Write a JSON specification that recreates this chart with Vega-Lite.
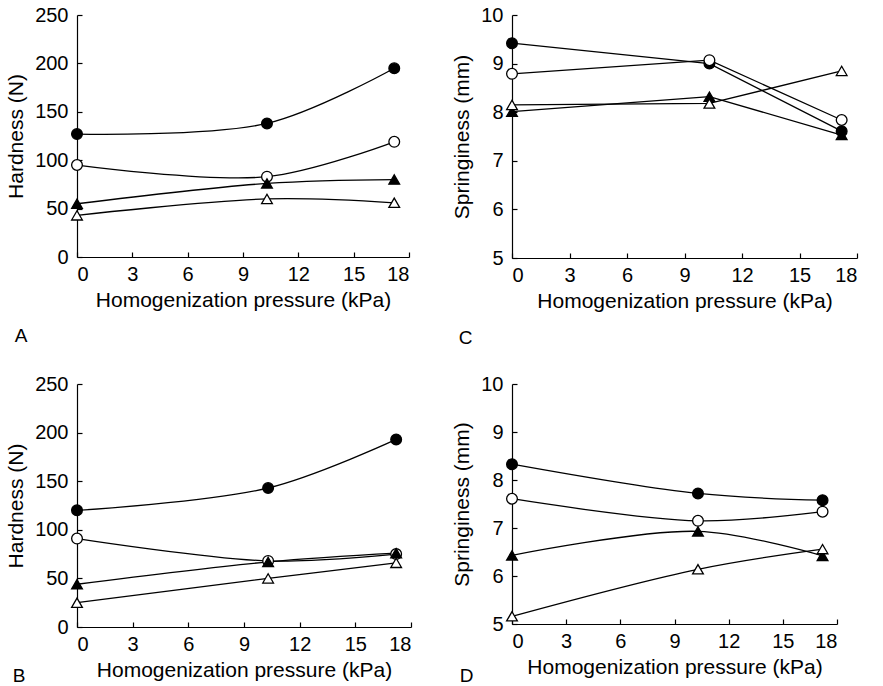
{
  "$schema": "https://vega.github.io/schema/vega-lite/v6.json",
  "background": "white",
  "padding": 5,
  "columns": 2,
  "spacing": {"row": 26, "column": 39},
  "config": {
    "font": "Liberation Sans",
    "view": {"stroke": null},
    "axis": {
      "grid": false,
      "domainColor": "black",
      "domainWidth": 1.2,
      "tickColor": "black",
      "tickWidth": 1.2,
      "tickSize": -5,
      "labelPadding": 12,
      "labelColor": "black",
      "labelFont": "Liberation Sans",
      "labelFontSize": 20,
      "titleFont": "Liberation Sans",
      "titleFontSize": 21,
      "titleFontWeight": "normal",
      "titleColor": "black",
      "titlePadding": 5
    },
    "axisY": {"labelPadding": 14, "titlePadding": 8},
    "title": {"font": "Liberation Sans", "fontSize": 19, "fontWeight": "normal", "color": "black"}
  },
  "datasets": {
    "pts": [
      {"panel": "A", "series": "Filled circle", "pressure": 0, "value": 127},
      {"panel": "A", "series": "Filled circle", "pressure": 10.3, "value": 138},
      {"panel": "A", "series": "Filled circle", "pressure": 17.2, "value": 195},
      {"panel": "A", "series": "Open circle", "pressure": 0, "value": 95},
      {"panel": "A", "series": "Open circle", "pressure": 10.3, "value": 83},
      {"panel": "A", "series": "Open circle", "pressure": 17.2, "value": 119},
      {"panel": "A", "series": "Filled triangle", "pressure": 0, "value": 55},
      {"panel": "A", "series": "Filled triangle", "pressure": 10.3, "value": 76},
      {"panel": "A", "series": "Filled triangle", "pressure": 17.2, "value": 80},
      {"panel": "A", "series": "Open triangle", "pressure": 0, "value": 43},
      {"panel": "A", "series": "Open triangle", "pressure": 10.3, "value": 60},
      {"panel": "A", "series": "Open triangle", "pressure": 17.2, "value": 56},
      {"panel": "B", "series": "Filled circle", "pressure": 0, "value": 120},
      {"panel": "B", "series": "Filled circle", "pressure": 10.3, "value": 143},
      {"panel": "B", "series": "Filled circle", "pressure": 17.2, "value": 193},
      {"panel": "B", "series": "Open circle", "pressure": 0, "value": 91},
      {"panel": "B", "series": "Open circle", "pressure": 10.3, "value": 68},
      {"panel": "B", "series": "Open circle", "pressure": 17.2, "value": 75},
      {"panel": "B", "series": "Filled triangle", "pressure": 0, "value": 44},
      {"panel": "B", "series": "Filled triangle", "pressure": 10.3, "value": 67},
      {"panel": "B", "series": "Filled triangle", "pressure": 17.2, "value": 76},
      {"panel": "B", "series": "Open triangle", "pressure": 0, "value": 25},
      {"panel": "B", "series": "Open triangle", "pressure": 10.3, "value": 50},
      {"panel": "B", "series": "Open triangle", "pressure": 17.2, "value": 66},
      {"panel": "C", "series": "Filled circle", "pressure": 0, "value": 9.42},
      {"panel": "C", "series": "Filled circle", "pressure": 10.3, "value": 9.0},
      {"panel": "C", "series": "Filled circle", "pressure": 17.2, "value": 7.61},
      {"panel": "C", "series": "Open circle", "pressure": 0, "value": 8.79},
      {"panel": "C", "series": "Open circle", "pressure": 10.3, "value": 9.07},
      {"panel": "C", "series": "Open circle", "pressure": 17.2, "value": 7.84},
      {"panel": "C", "series": "Filled triangle", "pressure": 0, "value": 8.01},
      {"panel": "C", "series": "Filled triangle", "pressure": 10.3, "value": 8.32},
      {"panel": "C", "series": "Filled triangle", "pressure": 17.2, "value": 7.53},
      {"panel": "C", "series": "Open triangle", "pressure": 0, "value": 8.15},
      {"panel": "C", "series": "Open triangle", "pressure": 10.3, "value": 8.18},
      {"panel": "C", "series": "Open triangle", "pressure": 17.2, "value": 8.85},
      {"panel": "D", "series": "Filled circle", "pressure": 0, "value": 8.33},
      {"panel": "D", "series": "Filled circle", "pressure": 10.3, "value": 7.72},
      {"panel": "D", "series": "Filled circle", "pressure": 17.2, "value": 7.58},
      {"panel": "D", "series": "Open circle", "pressure": 0, "value": 7.61},
      {"panel": "D", "series": "Open circle", "pressure": 10.3, "value": 7.15},
      {"panel": "D", "series": "Open circle", "pressure": 17.2, "value": 7.34},
      {"panel": "D", "series": "Filled triangle", "pressure": 0, "value": 6.43},
      {"panel": "D", "series": "Filled triangle", "pressure": 10.3, "value": 6.93},
      {"panel": "D", "series": "Filled triangle", "pressure": 17.2, "value": 6.42},
      {"panel": "D", "series": "Open triangle", "pressure": 0, "value": 5.16},
      {"panel": "D", "series": "Open triangle", "pressure": 10.3, "value": 6.14},
      {"panel": "D", "series": "Open triangle", "pressure": 17.2, "value": 6.56}
    ]
  },
  "concat": [
    {
      "width": 332, "height": 242,
      "data": {"name": "pts"},
      "transform": [{"filter": "datum.panel === 'A'"}],
      "title": {"text": "A", "orient": "bottom", "anchor": "start", "frame": "bounds", "offset": 17, "dx": 9},
      "encoding": {
        "x": {"field": "pressure", "type": "quantitative", "scale": {"domain": [0, 18]}, "axis": {"values": [0, 3, 6, 9, 12, 15, 18], "title": "Homogenization pressure (kPa)"}},
        "y": {"field": "value", "type": "quantitative", "scale": {"domain": [0, 250]}, "axis": {"values": [0, 50, 100, 150, 200, 250], "title": "Hardness (N)"}}
      },
      "layer": [
        {"mark": {"type": "line", "interpolate": "catmull-rom", "color": "black", "strokeWidth": 1.3}, "encoding": {"detail": {"field": "series"}}},
        {"mark": {"type": "point", "filled": true, "size": 115, "stroke": "black", "strokeWidth": 1.3, "opacity": 1},
         "encoding": {
           "fill": {"field": "series", "type": "nominal", "scale": {"domain": ["Filled circle", "Open circle", "Filled triangle", "Open triangle"], "range": ["black", "white", "black", "white"]}, "legend": null},
           "shape": {"field": "series", "type": "nominal", "scale": {"domain": ["Filled circle", "Open circle", "Filled triangle", "Open triangle"], "range": ["circle", "circle", "triangle-up", "triangle-up"]}, "legend": null}
         }}
      ]
    },
    {
      "width": 345, "height": 243,
      "data": {"name": "pts"},
      "transform": [{"filter": "datum.panel === 'C'"}],
      "title": {"text": "C", "orient": "bottom", "anchor": "start", "frame": "bounds", "offset": 18, "dx": 7},
      "encoding": {
        "x": {"field": "pressure", "type": "quantitative", "scale": {"domain": [0, 18]}, "axis": {"values": [0, 3, 6, 9, 12, 15, 18], "title": "Homogenization pressure (kPa)"}},
        "y": {"field": "value", "type": "quantitative", "scale": {"domain": [5, 10]}, "axis": {"values": [5, 6, 7, 8, 9, 10], "title": "Springiness (mm)"}}
      },
      "layer": [
        {"mark": {"type": "line", "interpolate": "linear", "color": "black", "strokeWidth": 1.3}, "encoding": {"detail": {"field": "series"}}},
        {"mark": {"type": "point", "filled": true, "size": 115, "stroke": "black", "strokeWidth": 1.3, "opacity": 1},
         "encoding": {
           "fill": {"field": "series", "type": "nominal", "scale": {"domain": ["Filled circle", "Open circle", "Filled triangle", "Open triangle"], "range": ["black", "white", "black", "white"]}, "legend": null},
           "shape": {"field": "series", "type": "nominal", "scale": {"domain": ["Filled circle", "Open circle", "Filled triangle", "Open triangle"], "range": ["circle", "circle", "triangle-up", "triangle-up"]}, "legend": null}
         }}
      ]
    },
    {
      "width": 334, "height": 243,
      "data": {"name": "pts"},
      "transform": [{"filter": "datum.panel === 'B'"}],
      "title": {"text": "B", "orient": "bottom", "anchor": "start", "frame": "bounds", "offset": -13, "dx": 7},
      "encoding": {
        "x": {"field": "pressure", "type": "quantitative", "scale": {"domain": [0, 18]}, "axis": {"values": [0, 3, 6, 9, 12, 15, 18], "title": "Homogenization pressure (kPa)"}},
        "y": {"field": "value", "type": "quantitative", "scale": {"domain": [0, 250]}, "axis": {"values": [0, 50, 100, 150, 200, 250], "title": "Hardness (N)"}}
      },
      "layer": [
        {"mark": {"type": "line", "interpolate": "catmull-rom", "color": "black", "strokeWidth": 1.3}, "encoding": {"detail": {"field": "series"}}},
        {"mark": {"type": "point", "filled": true, "size": 115, "stroke": "black", "strokeWidth": 1.3, "opacity": 1},
         "encoding": {
           "fill": {"field": "series", "type": "nominal", "scale": {"domain": ["Filled circle", "Open circle", "Filled triangle", "Open triangle"], "range": ["black", "white", "black", "white"]}, "legend": null},
           "shape": {"field": "series", "type": "nominal", "scale": {"domain": ["Filled circle", "Open circle", "Filled triangle", "Open triangle"], "range": ["circle", "circle", "triangle-up", "triangle-up"]}, "legend": null}
         }}
      ]
    },
    {
      "width": 325, "height": 240,
      "data": {"name": "pts"},
      "transform": [{"filter": "datum.panel === 'D'"}],
      "title": {"text": "D", "orient": "bottom", "anchor": "start", "frame": "bounds", "offset": -10, "dx": 8},
      "encoding": {
        "x": {"field": "pressure", "type": "quantitative", "scale": {"domain": [0, 18]}, "axis": {"values": [0, 3, 6, 9, 12, 15, 18], "title": "Homogenization pressure (kPa)"}},
        "y": {"field": "value", "type": "quantitative", "scale": {"domain": [5, 10]}, "axis": {"values": [5, 6, 7, 8, 9, 10], "title": "Springiness (mm)"}}
      },
      "layer": [
        {"mark": {"type": "line", "interpolate": "catmull-rom", "color": "black", "strokeWidth": 1.3}, "encoding": {"detail": {"field": "series"}}},
        {"mark": {"type": "point", "filled": true, "size": 115, "stroke": "black", "strokeWidth": 1.3, "opacity": 1},
         "encoding": {
           "fill": {"field": "series", "type": "nominal", "scale": {"domain": ["Filled circle", "Open circle", "Filled triangle", "Open triangle"], "range": ["black", "white", "black", "white"]}, "legend": null},
           "shape": {"field": "series", "type": "nominal", "scale": {"domain": ["Filled circle", "Open circle", "Filled triangle", "Open triangle"], "range": ["circle", "circle", "triangle-up", "triangle-up"]}, "legend": null}
         }}
      ]
    }
  ]
}
